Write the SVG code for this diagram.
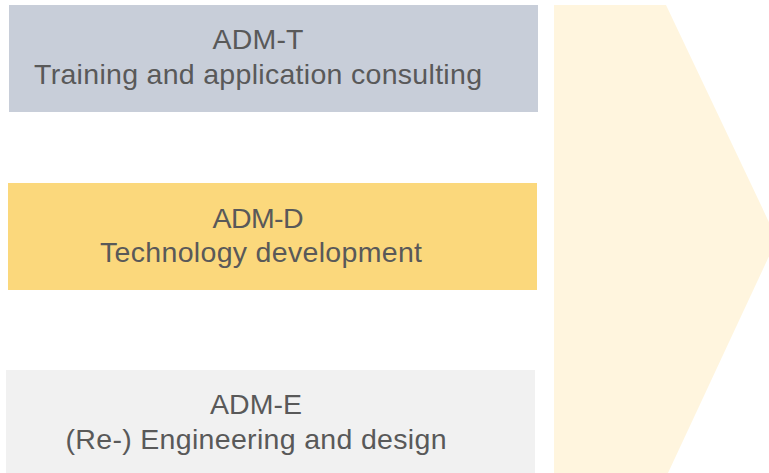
<svg xmlns="http://www.w3.org/2000/svg" width="769" height="473" viewBox="0 0 769 473">
<style>
.t{font-family:"Liberation Sans",Arial,sans-serif;font-size:28.5px;fill:#595959;text-anchor:middle}
</style>
<rect width="769" height="473" fill="#ffffff"/>
<g id="arrow">
<polygon points="554,5 666,5 777,239 668,473 554,473" fill="#FFF5DE"/>
</g>
<g id="adm-t">
<rect x="9" y="5" width="529" height="107" fill="#C8CED9"/>
<text class="t" x="258" y="49" textLength="91" lengthAdjust="spacing">ADM-T</text>
<text class="t" x="258" y="84" textLength="448" lengthAdjust="spacing">Training and application consulting</text>
</g>
<g id="adm-d">
<rect x="8" y="183" width="529" height="107" fill="#FBD87C"/>
<text class="t" x="258" y="228" textLength="91" lengthAdjust="spacing">ADM-D</text>
<text class="t" x="261" y="262" textLength="322" lengthAdjust="spacing">Technology development</text>
</g>
<g id="adm-e">
<rect x="6" y="370" width="529" height="103" fill="#F1F1F1"/>
<text class="t" x="256" y="414" textLength="92" lengthAdjust="spacing">ADM-E</text>
<text class="t" x="256" y="449" textLength="381" lengthAdjust="spacing">(Re-) Engineering and design</text>
</g>
<g id="connectors"></g>
</svg>
